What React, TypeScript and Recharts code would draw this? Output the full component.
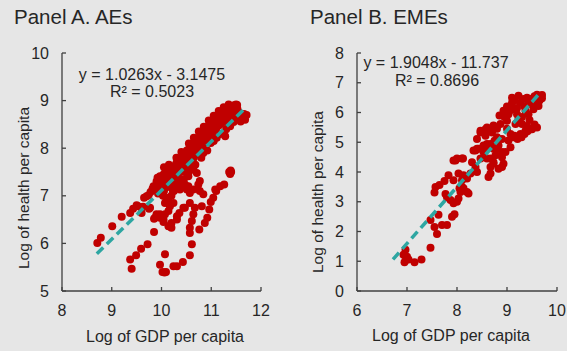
import React from "react";
import { ScatterChart, Scatter, XAxis, YAxis } from "recharts";

// Panel A (AEs): log GDP per capita vs log health per capita
const aesGdp: number[] = [
  9.84, 9.88, 9.90, 9.93, 9.95, 9.97, 9.98, 10.0, 9.92,
  10.02, 10.04, 10.05, 10.07, 10.08, 10.10, 10.11, 10.13, 10.14, 10.16, 10.17, 10.18, 10.20, 10.03,
  10.22, 10.23, 10.25, 10.26, 10.28, 10.30, 10.31, 10.33, 10.34, 10.36, 10.37, 10.38, 10.40, 10.27, 10.35,
  10.42, 10.43, 10.44, 10.45, 10.46, 10.48, 10.49, 10.50, 10.51, 10.52, 10.53, 10.55, 10.56, 10.57, 10.58, 10.59, 10.60, 10.51, 10.54, 10.47,
  10.61, 10.62, 10.63, 10.64, 10.65, 10.66, 10.67, 10.68, 10.69, 10.70, 10.71, 10.72, 10.73, 10.74, 10.75, 10.76, 10.77, 10.78, 10.79, 10.80, 10.64, 10.71, 10.62,
  10.81, 10.82, 10.83, 10.84, 10.85, 10.86, 10.87, 10.88, 10.89, 10.90, 10.91, 10.92, 10.93, 10.94, 10.95, 10.96, 10.97, 10.98, 10.99, 11.00, 10.84, 10.82,
  11.01, 11.02, 11.03, 11.04, 11.06, 11.07, 11.08, 11.10, 11.11, 11.12, 11.14, 11.15, 11.16, 11.18, 11.19, 11.20, 10.99, 11.11,
  11.21, 11.23, 11.25, 11.26, 11.28, 11.29, 11.30, 11.32, 11.33, 11.35, 11.36, 11.38, 11.38, 11.28, 11.40,
  11.42, 11.44, 11.46, 11.48, 11.50, 11.52, 11.54, 11.57, 11.59, 11.62, 11.66, 11.68, 11.71, 11.52,
  10.05, 10.15, 10.30, 10.40, 10.55, 10.65, 10.75, 10.85, 10.95, 11.05, 11.15, 11.25, 11.35,
  10.25, 10.40, 10.55, 10.68, 10.80, 10.92, 11.05, 11.18, 11.30, 11.45, 11.55,
  9.70, 9.78, 9.82, 10.10, 10.20, 10.25, 10.35, 10.45,
  11.36, 11.38, 11.40, 11.39,
  8.71, 8.78, 9.01, 9.20, 9.37, 9.43, 9.50, 9.53, 9.60, 9.63, 9.65, 9.74, 9.75, 9.77, 9.87, 9.85, 9.87, 9.85,
  9.37, 9.40, 9.49, 9.59, 9.72,
  9.90, 9.97, 9.97, 10.04, 10.04, 10.07, 10.14, 10.17, 10.24, 10.14, 10.16, 10.20, 10.20, 10.31, 10.31, 10.36, 10.44, 10.47,
  10.07, 10.14, 10.23, 10.37, 10.47, 10.51, 10.57,
  9.97, 10.07, 10.02, 10.06, 10.09, 10.24, 10.31, 10.43, 10.57, 10.61, 10.57, 10.57, 10.61, 10.64, 10.76, 10.67, 10.57, 10.64, 10.54, 10.77, 10.74, 10.77, 10.84, 10.81,
  10.87, 10.92, 10.96, 10.99, 11.04, 11.08, 11.18, 11.26, 11.10,
];
const aesHealth: number[] = [
  7.20, 7.12, 7.30, 7.05, 7.25, 7.41, 7.15, 7.34, 7.38,
  7.22, 7.45, 7.10, 7.32, 7.50, 7.18, 7.40, 7.28, 7.55, 7.36, 7.48, 7.20, 7.58, 7.00,
  7.42, 7.30, 7.62, 7.50, 7.38, 7.69, 7.55, 7.45, 7.72, 7.60, 7.76, 7.50, 7.66, 7.25, 7.35,
  7.80, 7.58, 7.83, 7.70, 7.62, 7.90, 7.75, 7.66, 7.95, 7.82, 7.60, 7.98, 7.86, 7.72, 8.02, 7.92, 7.78, 7.62, 7.41, 7.50,
  8.04, 7.88, 8.08, 7.96, 7.80, 8.12, 8.00, 7.86, 8.15, 8.05, 7.92, 8.18, 8.08, 7.98, 8.22, 8.12, 7.96, 8.25, 8.15, 8.02, 7.55, 7.48, 7.70,
  8.28, 8.18, 8.06, 8.32, 8.22, 8.12, 8.36, 8.26, 8.15, 8.40, 8.30, 8.20, 8.44, 8.34, 8.24, 8.48, 8.38, 8.28, 8.52, 8.42, 7.90, 7.96,
  8.30, 8.55, 8.46, 8.36, 8.60, 8.50, 8.40, 8.64, 8.54, 8.45, 8.68, 8.58, 8.48, 8.70, 8.62, 8.52, 8.11, 8.22,
  8.72, 8.65, 8.76, 8.58, 8.80, 8.68, 8.55, 8.82, 8.72, 8.62, 8.85, 8.75, 8.46, 8.25, 8.66,
  8.88, 8.80, 8.90, 8.72, 8.92, 8.86, 8.78, 8.70, 8.56, 8.66, 8.72, 8.60, 8.70, 8.91,
  7.60, 7.65, 7.80, 7.92, 8.10, 8.22, 8.35, 8.45, 8.58, 8.68, 8.78, 8.86, 8.92,
  7.15, 7.30, 7.50, 7.65, 7.80, 7.95, 8.15, 8.30, 8.40, 8.55, 8.62,
  6.99, 7.08, 7.15, 6.90, 7.00, 7.10, 7.20, 7.35,
  7.50, 7.46, 7.50, 7.53,
  6.01, 6.12, 6.36, 6.56, 6.64, 6.73, 6.80, 6.78, 6.64, 6.77, 6.96, 7.01, 6.73, 6.75, 7.17, 6.52, 6.54, 6.24,
  5.66, 5.47, 5.75, 5.89, 5.98,
  6.61, 6.61, 6.54, 6.50, 6.45, 6.61, 6.68, 6.78, 6.85, 6.36, 6.36, 6.43, 6.33, 6.50, 6.57, 6.64, 6.75, 6.75,
  6.85, 6.96, 7.10, 7.13, 7.24, 7.13, 7.06,
  5.55, 5.77, 5.40, 5.39, 5.40, 5.52, 5.52, 5.61, 5.75, 5.98, 6.22, 6.33, 6.47, 6.61, 6.29, 6.75, 6.85, 7.13, 7.20, 7.31, 7.24, 7.10, 7.03, 6.78,
  6.43, 6.54, 6.71, 6.87, 6.96, 7.13, 7.20, 7.24, 7.10,
];

// Panel B (EMEs)
const emesGdp: number[] = [
  6.97, 6.93, 7.00, 6.95, 7.03, 7.15, 7.29, 6.98,
  7.47, 7.47, 7.55, 7.60, 7.63, 7.70, 7.80,
  7.57, 7.55, 7.65, 7.75, 7.83, 7.93, 7.77, 7.80,
  7.87, 7.93, 7.90, 7.95, 8.03, 8.07, 8.13, 8.20, 8.23, 8.05, 8.10, 8.00,
  7.93, 8.00, 8.12,
  8.03, 8.13, 8.10, 8.20, 8.27,
  8.30, 8.37, 8.40,
  8.37, 8.43, 8.53, 8.60,
  8.40, 8.47, 8.57,
  8.67, 8.73, 8.83, 8.93, 8.90, 8.97, 8.67, 8.63,
  8.77, 8.73, 8.83, 8.90, 8.67,
  9.03, 9.07, 9.15, 9.21, 9.29, 9.35, 9.41, 9.50,
  8.60, 8.57, 8.67, 8.60,
  9.70, 9.63, 9.53, 9.43, 9.33, 9.27, 9.37, 9.43, 9.53, 9.63, 9.10, 9.10, 9.20, 9.03, 8.93, 9.00, 8.87, 8.73, 8.47, 8.70, 8.80,
  8.33, 8.40, 8.53, 8.67, 8.80, 8.90, 9.07, 9.13, 9.27, 9.37, 9.47, 9.30, 9.17, 9.23,
  7.97, 8.10, 8.47, 8.60, 8.73, 8.90, 9.10, 9.23, 9.47,
  9.60, 9.55, 9.40, 9.50, 9.35, 9.15, 9.00, 9.05, 8.95, 8.85, 9.30, 9.45, 9.55, 9.60, 9.40, 8.80, 8.55, 8.75, 9.00, 9.20, 9.60, 9.65, 9.70,
];
const emesHealth: number[] = [
  1.39, 1.22, 1.15, 0.97, 1.06, 0.97, 1.06, 1.05,
  1.45, 2.39, 2.15, 1.92, 2.56, 2.22, 2.22,
  3.50, 3.31, 3.56, 3.70, 3.89, 3.72, 3.26, 3.15,
  3.06, 2.95, 2.50, 2.58, 3.11, 3.33, 3.45, 3.33, 3.28, 3.45, 3.50, 3.00,
  4.39, 4.45, 4.45,
  3.95, 3.89, 3.72, 3.78, 3.95,
  4.33, 4.17, 4.00,
  4.72, 4.78, 4.67, 4.78,
  5.11, 5.33, 5.44,
  4.17, 4.28, 4.11, 4.28, 4.50, 4.67, 3.95, 3.83,
  4.56, 4.78, 4.89, 5.11, 4.45,
  5.06, 5.28, 5.22, 5.11, 5.17, 5.28, 5.37, 5.44,
  4.94, 5.22, 5.39, 5.50,
  6.59, 6.50, 6.39, 6.28, 6.45, 6.33, 6.06, 5.94, 6.11, 6.22, 6.33, 6.11, 5.94, 5.94, 6.06, 5.72, 5.61, 5.56, 5.39, 5.33, 5.17,
  4.72, 4.78, 4.89, 4.94, 4.78, 4.67, 4.83, 5.17, 5.28, 5.39, 5.44, 5.61, 5.61, 5.78,
  4.39, 4.45, 4.45, 4.45, 4.33, 4.17, 6.50, 6.56, 6.45,
  6.60, 6.55, 6.50, 6.30, 6.20, 6.40, 6.20, 6.05, 5.85, 5.90, 5.85, 5.75, 5.60, 5.50, 5.55, 5.45, 5.35, 5.05, 5.45, 6.15, 6.35, 6.40, 6.48,
];

// Trend line end points as drawn (x, y)
const trendAx: number[] = [8.7, 11.7];
const trendAy: number[] = [5.78, 8.86];
const trendBx: number[] = [6.72, 9.68];
const trendBy: number[] = [1.06, 6.70];

const ticksAx: number[] = [8, 9, 10, 11, 12];
const ticksAy: number[] = [5, 6, 7, 8, 9, 10];
const ticksBx: number[] = [6, 7, 8, 9, 10];
const ticksBy: number[] = [0, 1, 2, 3, 4, 5, 6, 7, 8];

const dataA = aesGdp.map((x, i) => ({ x, y: aesHealth[i] }));
const dataB = emesGdp.map((x, i) => ({ x, y: emesHealth[i] }));
const segA = trendAx.map((x, i) => ({ x, y: trendAy[i] }));
const segB = trendBx.map((x, i) => ({ x, y: trendBy[i] }));

const FONT = "'Liberation Sans', Arial, sans-serif";
const BG = "#e6e6e6";
const DOT = "#c00000";
const TEAL = "#2ea6a2";
const AXIS = "#404040";
const TEXT = "#262626";

const Dot = (p: any) => <circle cx={p.cx} cy={p.cy} r={4} fill={DOT} />;
const NoDot = () => <g />;

const tickStyle = { fontSize: 16, fill: TEXT, fontFamily: FONT };

function Panel(props: {
  data: { x: number; y: number }[];
  seg: { x: number; y: number }[];
  xd: [number, number];
  yd: [number, number];
  xt: number[];
  yt: number[];
  width: number;
  yw: number;
  right: number;
}) {
  return (
    <ScatterChart
      width={props.width}
      height={351}
      margin={{ top: 53, right: props.right, bottom: 0, left: 0 }}
    >
      <XAxis
        type="number"
        dataKey="x"
        domain={props.xd}
        ticks={props.xt}
        height={60}
        tickSize={-4}
        tickMargin={18}
        axisLine={{ stroke: AXIS, strokeWidth: 1.3 }}
        tickLine={{ stroke: AXIS, strokeWidth: 1.3 }}
        tick={tickStyle}
        interval={0}
        allowDataOverflow
      />
      <YAxis
        type="number"
        dataKey="y"
        domain={props.yd}
        ticks={props.yt}
        width={props.yw}
        tickSize={-4}
        tickMargin={17}
        axisLine={{ stroke: AXIS, strokeWidth: 1.3 }}
        tickLine={{ stroke: AXIS, strokeWidth: 1.3 }}
        tick={tickStyle}
        interval={0}
        allowDataOverflow
      />
      <Scatter data={props.data} fill={DOT} shape={Dot} isAnimationActive={false} />
      <Scatter
        data={props.seg}
        shape={NoDot}
        line={{ stroke: TEAL, strokeWidth: 3.5, strokeDasharray: "9 5" }}
        lineType="joint"
        isAnimationActive={false}
      />
    </ScatterChart>
  );
}

export default function App() {
  return (
    <div
      style={{
        position: "fixed",
        left: 0,
        top: 0,
        width: 567,
        height: 351,
        background: BG,
        fontFamily: FONT,
        overflow: "hidden",
      }}
    >
      <div style={{ position: "absolute", left: 0, top: 0 }}>
        <Panel data={dataA} seg={segA} xd={[8, 12]} yd={[5, 10]} xt={ticksAx} yt={ticksAy} width={290} yw={62} right={29} />
      </div>
      <div style={{ position: "absolute", left: 290, top: 0 }}>
        <Panel data={dataB} seg={segB} xd={[6, 10]} yd={[0, 8]} xt={ticksBx} yt={ticksBy} width={277} yw={67} right={10} />
      </div>
      <svg
        width={567}
        height={351}
        style={{ position: "absolute", left: 0, top: 0, pointerEvents: "none" }}
        fontFamily={FONT}
        fill={TEXT}
      >
        <text x={14} y={24} fontSize={20.5}>Panel A. AEs</text>
        <text x={310} y={24} fontSize={20.5}>Panel B. EMEs</text>
        <text x={152} y={80} fontSize={16} textAnchor="middle">y = 1.0263x - 3.1475</text>
        <text x={152} y={97} fontSize={16} textAnchor="middle">R² = 0.5023</text>
        <text x={436} y={68} fontSize={16} textAnchor="middle">y = 1.9048x - 11.737</text>
        <text x={437} y={86} fontSize={16} textAnchor="middle">R² = 0.8696</text>
        <text x={165} y={342} fontSize={16} textAnchor="middle">Log of GDP per capita</text>
        <text x={451} y={341} fontSize={16} textAnchor="middle">Log of GDP per capita</text>
        <text x={29} y={188} fontSize={15.5} textAnchor="middle" transform="rotate(-90 29 188)">Log of health per capita</text>
        <text x={323} y={192} fontSize={15.5} textAnchor="middle" transform="rotate(-90 323 192)">Log of health per capita</text>
      </svg>
    </div>
  );
}
